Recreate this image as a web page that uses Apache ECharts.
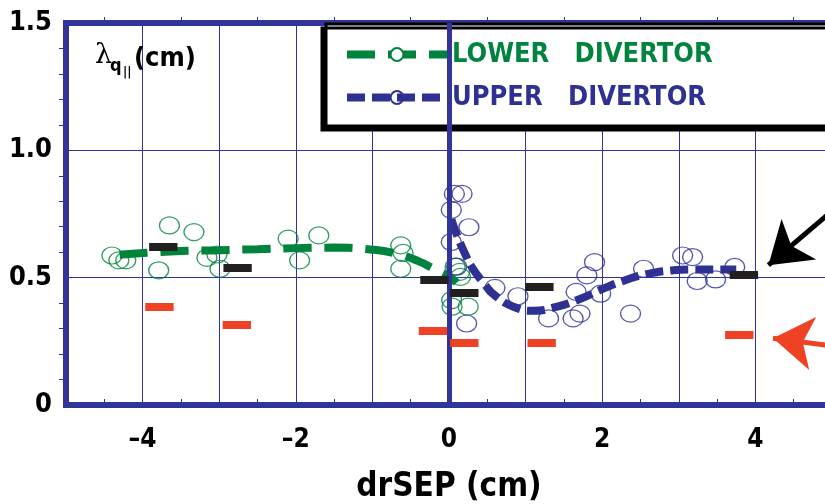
<!DOCTYPE html>
<html>
<head>
<meta charset="utf-8">
<script src="https://cdn.jsdelivr.net/npm/echarts@6/dist/echarts.min.js"></script>
<style>
  html, body { margin: 0; padding: 0; background: #fff; }
  #chart { width: 825px; height: 504px; }
</style>
</head>
<body>
<div id="chart"></div>
<script>
// lambda_q|| vs drSEP, lower / upper divertor

var lowerX = [-4.4, -4.31, -4.22, -3.79, -3.65, -3.33, -3.16, -3.03, -2.99, -2.1, -1.95, -1.7, -0.63, -0.6, -0.63, 0.08, 0.14, 0.15, 0.035, 0.04, 0.25];
var lowerY = [0.587, 0.568, 0.568, 0.529, 0.705, 0.679, 0.578, 0.591, 0.535, 0.653, 0.568, 0.666, 0.627, 0.597, 0.535, 0.543, 0.523, 0.503, 0.412, 0.386, 0.386];

var upperX = [0.07, 0.17, 0.03, 0.26, 0.03, 0.1, 0.23, 0.6, 0.9, 1.3, 1.62, 1.71, 1.66, 1.8, 1.9, 1.98, 2.37, 2.54, 3.05, 3.18, 3.24, 3.48, 3.73];
var upperY = [0.829, 0.829, 0.766, 0.698, 0.64, 0.543, 0.32, 0.46, 0.427, 0.34, 0.34, 0.359, 0.444, 0.509, 0.561, 0.437, 0.359, 0.535, 0.587, 0.581, 0.487, 0.493, 0.542];

var lowerFitX = [-4.3, -3.5, -3, -2.5, -2, -1.5, -1, -0.7, -0.4, -0.2, 0, 0.1];
var lowerFitY = [0.59, 0.605, 0.608, 0.612, 0.616, 0.618, 0.61, 0.595, 0.565, 0.535, 0.505, 0.48];

var upperFitX = [0.03, 0.1, 0.2, 0.3, 0.45, 0.6, 0.85, 1.1, 1.4, 1.7, 2.0, 2.3, 2.6, 2.9, 3.2, 3.5, 3.75];
var upperFitY = [0.73, 0.67, 0.6, 0.54, 0.48, 0.43, 0.385, 0.37, 0.385, 0.415, 0.455, 0.49, 0.515, 0.528, 0.532, 0.532, 0.532];

var blackX = [-3.73, -2.76, -0.19, 0.2, 1.18, 3.85];
var blackY = [0.62, 0.54, 0.49, 0.44, 0.466, 0.512];
var redX = [-3.78, -2.77, -0.21, 0.2, 1.21, 3.79];
var redY = [0.385, 0.316, 0.29, 0.244, 0.244, 0.275];

var xLabels = [-4, -2, 0, 2, 4];
var yLabels = [0, 0.5, 1.0, 1.5];

var AXIS = '#33349a';
var GREEN = '#00843d';
var BLUE = '#2e3192';
var FONT = "'Liberation Sans Narrow', 'DejaVu Sans Condensed', 'Liberation Sans', sans-serif";

function pairs(xs, ys) {
  var out = [];
  for (var i = 0; i < xs.length; i++) out.push([xs[i], ys[i]]);
  return out;
}
function segs(xs, ys) {
  var half = 0.185, out = [];
  for (var i = 0; i < xs.length; i++) out.push({ coords: [[xs[i] - half, ys[i]], [xs[i] + half, ys[i]]] });
  return out;
}

var myChart = echarts.init(document.getElementById('chart'));

var tickStyle = { color: AXIS, width: 1 };
var option = {
  animation: false,
  backgroundColor: '#fff',
  grid: {
    left: 66, top: 23, width: 766, height: 382,
    outerBoundsMode: 'none', containLabel: false,
    show: true, borderColor: AXIS, borderWidth: 6, backgroundColor: 'transparent'
  },
  legend: {
    orient: 'vertical', left: 338, top: 36, itemGap: 16,
    itemWidth: 100, itemHeight: 16,
    lineStyle: { width: 8 },
    textStyle: { fontSize: 27, fontWeight: 'bold', fontFamily: FONT },
    data: [
      { name: 'LOWER   DIVERTOR', textStyle: { color: GREEN } },
      { name: 'UPPER   DIVERTOR', textStyle: { color: BLUE } }
    ],
    z: 10
  },
  graphic: [
    { type: 'rect', z: 5, shape: { x: 326, y: 24, width: 520, height: 102 },
      style: { fill: '#fff', stroke: '#000', lineWidth: 3, shadowColor: '#000', shadowOffsetX: -4, shadowOffsetY: 4, shadowBlur: 0 } },
    { type: 'text', z: 6, style: { text: 'λ', x: 95, y: 42, font: "27px 'DejaVu Serif', serif", fill: '#000' } },
    { type: 'text', z: 6, style: { text: 'q', x: 110, y: 57, font: "bold 18px " + FONT, fill: '#000' } },
    { type: 'text', z: 6, style: { text: '||', x: 123, y: 66, font: "bold 13px " + FONT, fill: '#000' } },
    { type: 'text', z: 6, style: { text: '(cm)', x: 134, y: 45, font: "bold 27px " + FONT, fill: '#000' } }
  ],
  xAxis: [{
    type: 'value', min: -5, max: 5, interval: 1,
    name: 'drSEP (cm)', nameLocation: 'middle', nameGap: 66,
    nameTextStyle: { fontSize: 33, fontWeight: 'bold', fontFamily: FONT, color: '#000' },
    axisLine: { show: false, onZero: false },
    axisTick: { show: true, inside: true, length: 6, lineStyle: tickStyle },
    minorTick: { show: true, splitNumber: 2, length: 6, lineStyle: tickStyle },
    splitLine: { show: true, lineStyle: { color: AXIS, width: 1 } },
    axisLabel: {
      margin: 22, fontSize: 26, fontWeight: 'bold', fontFamily: FONT, color: '#000',
      formatter: function (v) {
        if (xLabels.indexOf(v) < 0) return '';
        return v < 0 ? '\u2013' + (-v) : String(v);
      }
    }
  }, {
    type: 'value', position: 'top', min: -5, max: 5, interval: 1,
    axisLine: { show: false, onZero: false }, axisLabel: { show: false }, splitLine: { show: false },
    axisTick: { show: false },
    minorTick: { show: true, splitNumber: 2, length: 6, lineStyle: tickStyle }
  }],
  yAxis: [{
    type: 'value', min: 0, max: 1.5, interval: 0.5,
    axisLine: { show: false, onZero: false },
    axisTick: { show: false },
    minorTick: { show: true, splitNumber: 5, length: 7, lineStyle: tickStyle },
    splitLine: { show: true, lineStyle: { color: AXIS, width: 1 } },
    axisLabel: {
      margin: 14, fontSize: 27, fontWeight: 'bold', fontFamily: FONT, color: '#000',
      formatter: function (v) {
        for (var i = 0; i < yLabels.length; i++) {
          if (Math.abs(yLabels[i] - v) < 1e-9) return v === 0 ? '0' : v.toFixed(1);
        }
        return '';
      }
    }
  }, {
    type: 'value', position: 'right', min: 0, max: 1.5, interval: 0.5,
    axisLine: { show: false, onZero: false }, axisLabel: { show: false }, splitLine: { show: false },
    axisTick: { show: false },
    minorTick: { show: true, splitNumber: 5, length: 10, lineStyle: tickStyle }
  }],
  series: [
    {
      name: 'LOWER   DIVERTOR', type: 'line', smooth: true, z: 2,
      data: pairs(lowerFitX, lowerFitY),
      showSymbol: false, symbol: 'circle', symbolSize: [20, 14],
      itemStyle: { color: '#fff', borderColor: GREEN, borderWidth: 1.5 },
      lineStyle: { color: GREEN, width: 8, type: [28, 13] },
      markLine: {
        silent: true, symbol: 'none', label: { show: false },
        lineStyle: { color: AXIS, width: 5, type: 'solid' },
        data: [{ xAxis: 0 }]
      }
    },
    {
      name: 'UPPER   DIVERTOR', type: 'line', smooth: true, z: 4,
      data: pairs(upperFitX, upperFitY),
      showSymbol: false, symbol: 'circle', symbolSize: [20, 14],
      itemStyle: { color: 'rgba(255,255,255,0)', borderColor: BLUE, borderWidth: 1.5 },
      lineStyle: { color: BLUE, width: 8, type: [18, 7] }
    },
    {
      name: 'LOWER   DIVERTOR', type: 'scatter', z: 3,
      data: pairs(lowerX, lowerY),
      symbol: 'circle', symbolSize: [20, 17],
      itemStyle: { color: 'rgba(255,255,255,0)', borderColor: GREEN, borderWidth: 1.3 }
    },
    {
      name: 'UPPER   DIVERTOR', type: 'scatter', z: 3,
      data: pairs(upperX, upperY),
      symbol: 'circle', symbolSize: [20, 17],
      itemStyle: { color: 'rgba(255,255,255,0)', borderColor: BLUE, borderWidth: 1.3 }
    },
    {
      type: 'lines', coordinateSystem: 'cartesian2d', z: 5, silent: true,
      data: segs(blackX, blackY),
      lineStyle: { color: '#231f20', width: 8, opacity: 1 }
    },
    {
      type: 'lines', coordinateSystem: 'cartesian2d', z: 5, silent: true,
      data: segs(redX, redY),
      lineStyle: { color: '#ef4123', width: 8, opacity: 1 }
    },
    {
      type: 'lines', coordinateSystem: 'cartesian2d', z: 6, silent: true, clip: false,
      symbol: ['none', 'arrow'], symbolSize: [30, 40],
      data: [
        { coords: [[5.5, 0.89], [4.17, 0.549]], lineStyle: { color: '#000' } },
        { coords: [[5.5, 0.212], [4.23, 0.262]], lineStyle: { color: '#ef4123' } }
      ],
      lineStyle: { width: 5, opacity: 1 }
    }
  ]
};

myChart.setOption(option);
</script>
</body>
</html>
